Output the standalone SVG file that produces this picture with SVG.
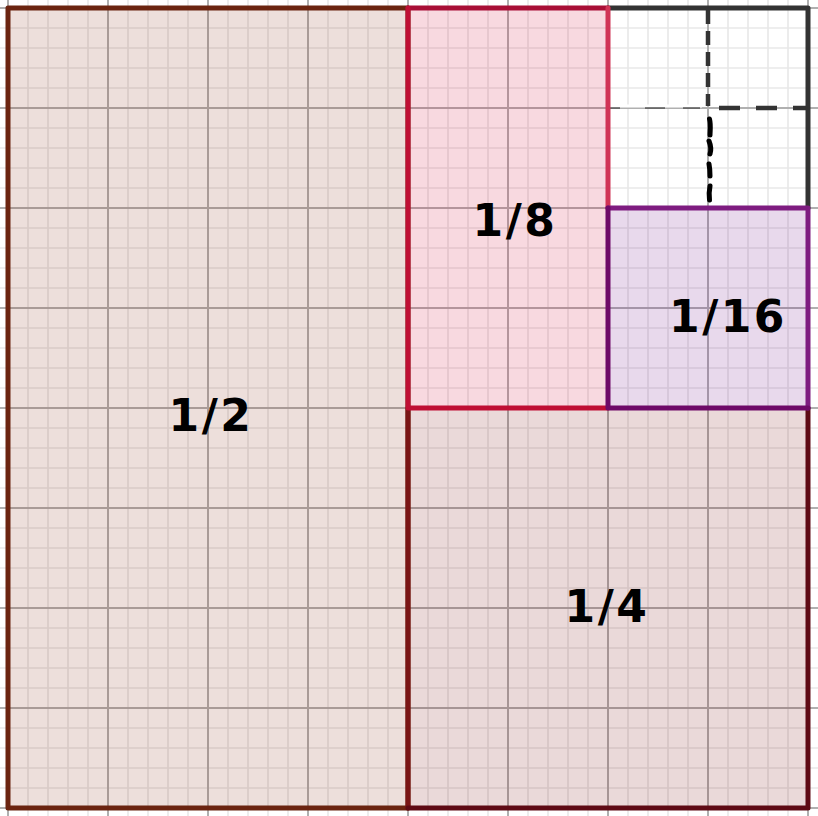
<svg xmlns="http://www.w3.org/2000/svg" width="818" height="816" viewBox="0 0 818 816">
<defs>
<pattern id="minor" x="-2" y="-2" width="20" height="20" patternUnits="userSpaceOnUse">
<path d="M0 10H20M10 0V20" fill="none" stroke="#e9e9e9" stroke-width="1.7"/>
</pattern>
<pattern id="major" x="-42" y="-42" width="100" height="100" patternUnits="userSpaceOnUse">
<path d="M0 50H100M50 0V100" fill="none" stroke="#b0b0b0" stroke-width="2"/>
</pattern>
</defs>
<style>
.lbl{font-family:"DejaVu Sans",sans-serif;font-weight:bold;font-size:44px;letter-spacing:2.5px;text-anchor:middle;fill:#000}
.fill{fill-opacity:0.15;stroke:none}
.edge{fill:none;stroke-width:5;stroke-linejoin:round;stroke-linecap:round}
</style>
<rect width="818" height="816" fill="#fff"/>
<g id="grid">
<rect x="0" y="0" width="818" height="816" fill="url(#minor)"/>
<rect x="0" y="0" width="818" height="816" fill="url(#major)"/>
</g>
<g id="fills">
<rect class="fill" x="8" y="8" width="400" height="800" fill="#872a0f"/>
<rect class="fill" x="408" y="408" width="400" height="400" fill="#730000"/>
<rect class="fill" x="408" y="8" width="200" height="400" fill="#d00030"/>
<rect class="fill" x="608" y="208" width="200" height="200" fill="#660080"/>
</g>
<g id="connectors">
<path d="M708 10V106" fill="none" stroke="#333" stroke-width="4.5" stroke-dasharray="14 7"/>
<path d="M719 108H808" fill="none" stroke="#333" stroke-width="4.5" stroke-dasharray="21 16"/>
<path d="M609 106H702" fill="none" stroke="#fff" stroke-width="3"/>
<path d="M610 108H620M645 108H665M683 108H700" fill="none" stroke="#222" stroke-width="1.2"/>
<path d="M709.5 119C711 125 710 131 710 135M709 141C711 146 711 151 710 154M709 164C710 169 710 173 710 176M710 186C709 191 709 196 709.5 200" fill="none" stroke="#000" stroke-width="5" stroke-linecap="round"/>
</g>
<g id="quarter-remaining">
<path class="edge" d="M608 8H808V208" stroke="#333"/>
</g>
<g id="half">
<rect class="edge" x="8" y="8" width="400" height="800" stroke="#6b2410"/>
<text class="lbl" x="211" y="431">1/2</text>
</g>
<g id="quarter">
<path class="edge" d="M408 408V808" stroke="#7a1515"/>
<path class="edge" d="M408 808H808V408" stroke="#5e0a14"/>
<text class="lbl" x="607" y="622">1/4</text>
</g>
<g id="eighth">
<path class="edge" d="M408 8H608" stroke="#a80f36"/>
<path class="edge" d="M408 8V408H608" stroke="#bf0f34"/>
<path class="edge" d="M608 8V208" stroke="#d03456"/>
<text class="lbl" x="515" y="236">1/8</text>
</g>
<g id="sixteenth">
<path class="edge" d="M608 208H808V408" stroke="#7e1c80"/>
<path class="edge" d="M608 208V408H808" stroke="#6e0a68"/>
<text class="lbl" x="728" y="332">1/16</text>
</g>
</svg>
